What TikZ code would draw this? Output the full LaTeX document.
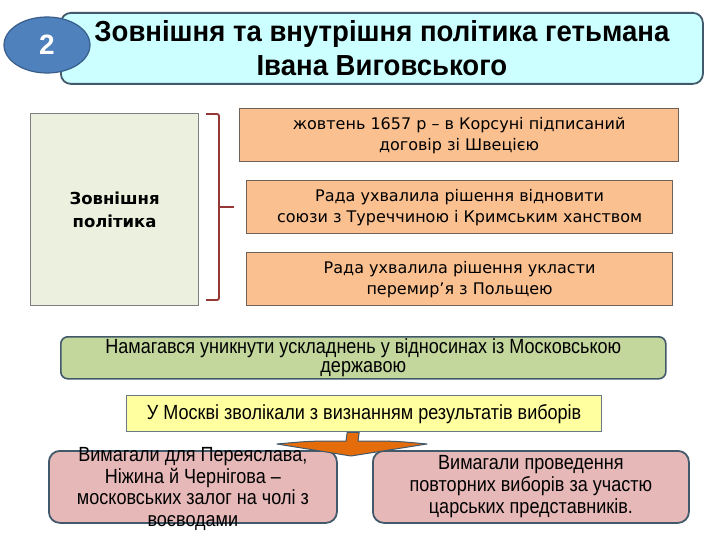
\documentclass[tikz,border=0pt]{standalone}
\usepackage{fontspec}
\setmainfont{Liberation Sans}
\newfontfamily\headfont[FakeStretch=0.95]{Liberation Sans}
\newfontfamily\narrowfont[FakeStretch=0.88]{Liberation Sans}
\newfontfamily\tahomafont{DejaVu Sans}
\usepackage{tikz}
\usetikzlibrary{shapes.geometric}
\usetikzlibrary{calc}
\definecolor{headcyan}{HTML}{CCFFFF}
\definecolor{slateline}{HTML}{41596B}
\definecolor{ovalblue}{HTML}{4F81BD}
\definecolor{ovalline}{HTML}{385D8A}
\definecolor{policyfill}{HTML}{EBF1DE}
\definecolor{policyline}{HTML}{7F7F7F}
\definecolor{bracered}{HTML}{953735}
\definecolor{eventfill}{HTML}{FAC090}
\definecolor{eventline}{HTML}{6E6259}
\definecolor{greenfill}{HTML}{C3D69B}
\definecolor{yellowfill}{HTML}{FFFF9F}
\definecolor{pinkfill}{HTML}{E6B9B8}
\definecolor{arroworange}{HTML}{E46C0A}
\tikzstyle{headbox}=[draw=slateline, line width=1.8pt, fill=headcyan, rounded corners=10pt, anchor=north west, minimum width=642pt, minimum height=71pt, inner sep=0pt, align=center, font=\headfont\bfseries\fontsize{29}{34}\selectfont]
\tikzstyle{numoval}=[ellipse, draw=ovalline, line width=1.2pt, fill=ovalblue, text=white, minimum width=86pt, minimum height=56pt, inner sep=0pt, font=\bfseries\fontsize{28}{30}\selectfont]
\tikzstyle{policybox}=[draw=policyline, line width=1.2pt, fill=policyfill, anchor=north west, minimum width=168pt, minimum height=192pt, align=center, font=\tahomafont\bfseries\fontsize{16.5}{23}\selectfont]
\tikzstyle{brace}=[draw=bracered, line width=1.8pt, rounded corners=2pt]
\tikzstyle{eventbox}=[draw=eventline, line width=1.2pt, fill=eventfill, anchor=north west, minimum height=53pt, inner sep=1pt, align=center, font=\tahomafont\fontsize{16}{21}\selectfont]
\tikzstyle{greenbox}=[draw=slateline, line width=1.6pt, fill=greenfill, rounded corners=7pt, anchor=north west, minimum width=605pt, minimum height=42pt, inner sep=1pt, align=center, font=\narrowfont\fontsize{20.5}{19.5}\selectfont]
\tikzstyle{yellowbox}=[draw=slateline!80, line width=1.4pt, fill=yellowfill, anchor=north west, minimum width=475pt, minimum height=36pt, inner sep=1pt, align=center, font=\narrowfont\fontsize{20.5}{22}\selectfont]
\tikzstyle{pinkbox}=[draw=slateline, line width=1.8pt, fill=pinkfill, rounded corners=11pt, anchor=north west, minimum height=72pt, inner sep=0pt, align=center, font=\narrowfont\fontsize{20.5}{22}\selectfont]
\tikzstyle{downarrow}=[draw=slateline, line width=1pt, fill=arroworange, line join=round]

\begin{document}
\begin{tikzpicture}[x=1pt,y=-1pt]
\useasboundingbox (0,0) rectangle (720,540);
% title
\node[headbox] (head) at (60,12) {Зовнішня та внутрішня політика гетьмана\\Івана Виговського};
\node[numoval] (num) at (47,45) {2};
% foreign policy
\node[policybox] (ext) at (30,113) {Зовнішня\\політика};
\coordinate (bt) at (206,114);
\coordinate (bb) at (206,300);
\coordinate (bx) at (219,207);
\coordinate (bm) at (234,207);
\draw[brace] (bt) -| (bx) |- (bb);
\draw[brace] (bx) -- (bm);
\foreach \n/\x/\y/\w/\txt in {1/239/108/439/{жовтень 1657 р – в Корсуні підписаний\\договір зі Швецією},
  2/246/180/426/{Рада ухвалила рішення відновити\\союзи з Туреччиною і Кримським ханством},
  3/246/252/426/{Рада ухвалила рішення укласти\\перемир’я з Польщею}} {
 \node[eventbox, minimum width=\w pt] (ev\n) at (\x,\y) {\txt};
}
% relations with Moscow
\node[greenbox] (avoid) at (60,336) {Намагався уникнути ускладнень у відносинах із Московською\\державою};
\node[yellowbox] (delay) at (126,395) {У Москві зволікали з визнанням результатів виборів};
\node[pinkbox, minimum width=288pt] (garr) at (48,450) {};
\node[font=\narrowfont\fontsize{20.5}{21.5}\selectfont, align=center] at ($(garr.center)+(0,2)$) {Вимагали для Переяслава,\\Ніжина й Чернігова –\\московських залог на чолі з\\воєводами};
\node[pinkbox, minimum width=316pt] (elect) at (372,450) {Вимагали проведення\\повторних виборів за участю\\царських представників.};
% arrow
\coordinate (tip) at (351,456);
\draw[downarrow] ($(delay.south)+(-17,0)$) -- ($(delay.south)+(-5,0)$) -- (358,441)
  .. controls (395,441) .. (427,444) -- (tip) -- (277,444) .. controls (310,441) .. (346,441) -- cycle;
\end{tikzpicture}
\end{document}
